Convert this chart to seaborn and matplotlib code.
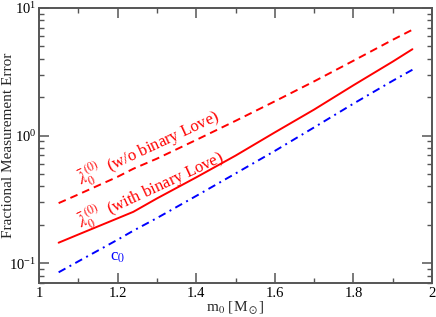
import numpy as np
import pandas as pd
import matplotlib
matplotlib.use("Agg")
import matplotlib.pyplot as plt
import seaborn as sns
from matplotlib.ticker import LogLocator, MultipleLocator, FixedLocator, NullFormatter

# data
m0 = [1.05, 1.10, 1.20, 1.24, 1.30, 1.40, 1.50, 1.60, 1.70, 1.80, 1.90, 1.95]
err_wo_love = [0.296, 0.346, 0.476, 0.55, 0.660, 0.925, 1.305, 1.857, 2.66, 3.86, 5.63, 6.75]
err_with_love = [0.145, 0.168, 0.225, 0.253, 0.322, 0.471, 0.697, 1.06, 1.60, 2.48, 3.80, 4.75]
err_c0 = [0.085, 0.1035, 0.153, 0.180, 0.226, 0.337, 0.505, 0.759, 1.16, 1.78, 2.69, 3.28]

xticks = [1, 1.2, 1.4, 1.6, 1.8, 2]
xticklabels = ["1", "1.2", "1.4", "1.6", "1.8", "2"]

sns.set_style("ticks")
plt.rcParams["font.family"] = ["Liberation Serif", "DejaVu Serif"]
plt.rcParams["mathtext.fontset"] = "stix"

fig = plt.figure(figsize=(4.36, 3.17), dpi=100)
ax = fig.add_axes([0.0894, 0.107, 0.9016, 0.868])

df = pd.DataFrame({"m0": m0, "wo": err_wo_love, "with": err_with_love, "c0": err_c0})
sns.lineplot(data=df, x="m0", y="wo", ax=ax, color="#ff0000", lw=1.4)
sns.lineplot(data=df, x="m0", y="with", ax=ax, color="#ff0000", lw=1.4)
sns.lineplot(data=df, x="m0", y="c0", ax=ax, color="#0000ff", lw=1.4)
lines = ax.get_lines()
lines[0].set_dashes((4, 2.6))
lines[2].set_dashes((4, 2.4, 1, 2.4))

ax.set_yscale("log")
ax.set_xlim(1, 2)
ax.set_ylim(0.07, 10)
ax.xaxis.set_major_locator(FixedLocator(xticks))
ax.set_xticklabels(xticklabels)
ax.xaxis.set_minor_locator(MultipleLocator(0.1))
ax.yaxis.set_major_locator(LogLocator(base=10, numticks=10))
ax.yaxis.set_minor_locator(LogLocator(base=10, subs=np.arange(2, 10), numticks=10))
ax.yaxis.set_minor_formatter(NullFormatter())

spine_col = "#555555"
for s in ax.spines.values():
    s.set_visible(True)
    s.set_color(spine_col)
    s.set_linewidth(1.4)
ax.tick_params(which="both", direction="in", top=True, right=True, colors=spine_col,
               labelcolor="black", labelsize=10.5)
ax.tick_params(which="major", length=7, width=1.1, pad=3)
ax.tick_params(axis="y", which="major", pad=2)
ax.tick_params(which="minor", length=3.5, width=1.0)

ax.set_xlabel(r"m$_0$ [M$_\odot$]", fontsize=11, labelpad=-1)
ax.set_ylabel("Fractional Measurement Error", fontsize=11)
ax.yaxis.set_label_coords(-0.062, 0.5)

ax.text(1.115, 0.36, r"$\bar{\lambda}_0^{\,(0)}$  (w/o binary Love)", color="#ff0000",
        fontsize=12, rotation=25, rotation_mode="anchor", ha="left", va="bottom")
ax.text(1.115, 0.167, r"$\bar{\lambda}_0^{\,(0)}$  (with binary Love)", color="#ff0000",
        fontsize=12, rotation=25, rotation_mode="anchor", ha="left", va="bottom")
ax.text(1.2, 0.112, r"c$_0$", color="#0000ff", fontsize=12, ha="center", va="center")

fig.savefig("out.png", dpi=100)
